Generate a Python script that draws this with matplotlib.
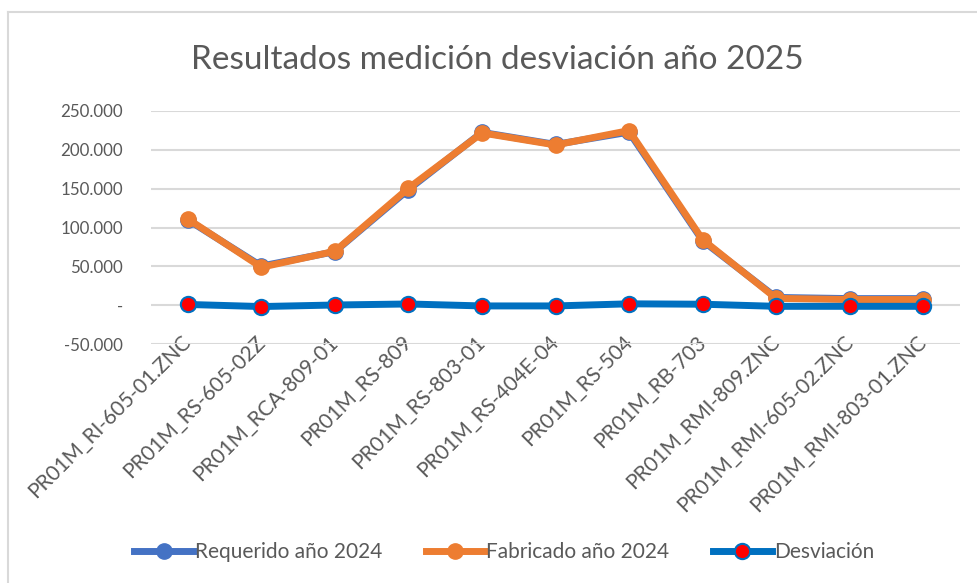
import matplotlib.pyplot as plt
from matplotlib.ticker import FuncFormatter
from matplotlib.lines import Line2D
import numpy as np

categorias = ['PR01M_RI-605-01.ZNC', 'PR01M_RS-605-02Z', 'PR01M_RCA-809-01',
              'PR01M_RS-809', 'PR01M_RS-803-01', 'PR01M_RS-404E-04',
              'PR01M_RS-504', 'PR01M_RB-703', 'PR01M_RMI-809.ZNC',
              'PR01M_RMI-605-02.ZNC', 'PR01M_RMI-803-01.ZNC']
requerido = [109800, 50500, 69000, 148700, 222200, 206700, 222500, 83000, 10200, 8700, 8700]
fabricado = [111000, 49000, 69500, 150500, 221500, 206000, 224500, 84500, 9000, 7500, 7500]
desviacion = [1200, -1500, 500, 1800, -700, -700, 2000, 1500, -1200, -1200, -1200]
y_ticks = [-50000, 0, 50000, 100000, 150000, 200000, 250000]

plt.rcParams['font.family'] = ['Lato', 'DejaVu Sans']
grey = '#595959'
LW = 5
MS = 11


def fmt_y(v, pos):
    if abs(v) < 1e-9:
        return '-'
    return '{:,.0f}'.format(v).replace(',', '.')


fig = plt.figure(figsize=(9.77, 5.83), dpi=100)
ax = fig.add_axes([0.1546, 0.4094, 0.828, 0.4007])

x = np.arange(len(categorias))
ax.plot(x, requerido, color='#4472C4', lw=LW, marker='o', ms=MS,
        mfc='#4472C4', mec='#4472C4', zorder=3)
ax.plot(x, fabricado, color='#ED7D31', lw=LW, marker='o', ms=MS,
        mfc='#ED7D31', mec='#ED7D31', zorder=4)
ax.plot(x, desviacion, color='#0070C0', lw=LW, marker='o', ms=MS,
        mfc='#FF0000', mec='#0070C0', mew=1.5, zorder=5)

ax.set_xlim(-0.5, len(categorias) - 0.5)
ax.set_ylim(-50000, 250000)
ax.set_yticks(y_ticks)
ax.yaxis.set_major_formatter(FuncFormatter(fmt_y))
ax.grid(axis='y', color='#D9D9D9', lw=1.5)
ax.set_axisbelow(True)
for s in ax.spines.values():
    s.set_visible(False)

ax.set_xticks(x)
ax.set_xticklabels(categorias, rotation=45, ha='right', va='center',
                   rotation_mode='anchor')
ax.tick_params(axis='x', length=0, colors=grey, labelsize=15, pad=-4)
ax.tick_params(axis='y', length=0, colors=grey, labelsize=12.2, pad=20)

fig.text(0.509, 0.897, 'Resultados medición desviación año 2025',
         ha='center', va='center', fontsize=24, color=grey)

handles = [
    Line2D([], [], color='#4472C4', lw=LW, marker='o', ms=MS, mfc='#4472C4', mec='#4472C4'),
    Line2D([], [], color='#ED7D31', lw=LW, marker='o', ms=MS, mfc='#ED7D31', mec='#ED7D31'),
    Line2D([], [], color='#0070C0', lw=LW, marker='o', ms=MS, mfc='#FF0000', mec='#0070C0', mew=1.5),
]
leg = fig.legend(handles, ['Requerido año 2024', 'Fabricado año 2024', 'Desviación'],
                 loc='center', bbox_to_anchor=(0.516, 0.053), ncol=3, frameon=False,
                 fontsize=15, handlelength=2.8, handletextpad=0.1, columnspacing=2.1)
for t in leg.get_texts():
    t.set_color(grey)

# outer chart border (left and top edges visible)
fig.add_artist(Line2D([8 / 977, 8 / 977], [0, 1 - 12 / 583], transform=fig.transFigure,
                      color='#D9D9D9', lw=1.5))
fig.add_artist(Line2D([8 / 977, 1], [1 - 12 / 583, 1 - 12 / 583], transform=fig.transFigure,
                      color='#D9D9D9', lw=1.5))

plt.savefig('out.png', dpi=100)
